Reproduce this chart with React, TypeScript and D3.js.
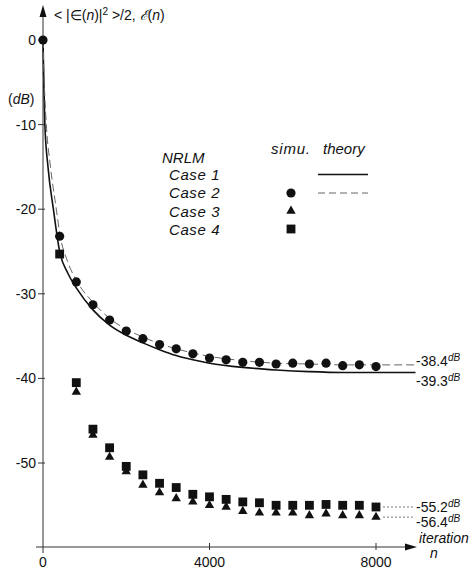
import React from 'react';
import * as d3 from 'd3';

const W = 473;
const H = 571;

// sample positions of the simulated markers
const iters = [0, 400, 800, 1200, 1600, 2000, 2400, 2800, 3200, 3600, 4000, 4400, 4800, 5200, 5600, 6000, 6400, 6800, 7200, 7600, 8000];

// Case 2 (circles)
const case2 = [0, -23.2, -28.6, -31.3, -33.1, -34.4, -35.3, -36.0, -36.5, -37.1, -37.6, -37.8, -38.1, -38.1, -38.3, -38.2, -38.3, -38.2, -38.5, -38.4, -38.6];
// Case 3 (triangles), from n = 800 on
const case3Iters = iters.slice(2);
const case3 = [-41.6, -46.7, -49.3, -51.0, -52.6, -53.5, -54.2, -54.6, -55.0, -55.2, -55.7, -55.9, -55.9, -55.9, -56.2, -56.0, -56.2, -56.2, -56.4];
// Case 4 (squares), from n = 400 on
const case4Iters = iters.slice(1);
const case4 = [-25.3, -40.5, -46.0, -48.2, -50.4, -51.4, -52.4, -52.9, -53.7, -54.0, -54.3, -54.6, -54.7, -55.0, -55.0, -55.0, -54.9, -55.0, -55.0, -55.2];

// theory curves
const theory1N = [0, 20, 45, 120, 250, 400, 600, 800, 1200, 1600, 2000, 2400, 2800, 3200, 3600, 4000, 4800, 5600, 6400, 7200, 8000, 8950];
const theory1 = [0, -5, -10, -15, -20, -25, -27.6, -29.3, -31.9, -33.7, -34.9, -35.8, -36.6, -37.3, -37.8, -38.2, -38.7, -39.0, -39.2, -39.3, -39.3, -39.3];
const theory2N = [0, 30, 80, 180, 320, 400, 600, 800, 1200, 1600, 2000, 2400, 2800, 3200, 3600, 4000, 4800, 5600, 6400, 7200, 8000, 8950];
const theory2 = [0, -5, -10, -15, -20, -22.8, -26.3, -28.4, -31.0, -32.9, -34.2, -35.1, -35.9, -36.5, -37.0, -37.4, -37.9, -38.2, -38.3, -38.4, -38.4, -38.4];

const yTicks = [0, -10, -20, -30, -40, -50];
const xTicks = [0, 4000, 8000];
const legendCases = ['Case 1', 'Case 2', 'Case 3', 'Case 4'];

const font = 'Liberation Sans, Arial, Helvetica, sans-serif';
const ink = '#111';

export default function App() {
  const x = d3.scaleLinear().domain([0, 8000]).range([43, 376]);
  const y = d3.scaleLinear().domain([0, -50]).range([40, 463]);
  const x0 = x(0);
  const yAxisPos = 547;

  const line = d3.line<[number, number]>()
    .x(d => x(d[0]))
    .y(d => y(d[1]))
    .curve(d3.curveMonotoneX);

  const sq = d3.symbol(d3.symbolSquare, 78)();
  const tri = d3.symbol(d3.symbolTriangle, 38)();

  const path1 = line(theory1N.map((n, i) => [n, theory1[i]]));
  const path2 = line(theory2N.map((n, i) => [n, theory2[i]]));

  const endLabel = (val: string, yy: number) => (
    <text x={416} y={yy} fontSize={14} fill={ink}>
      {val}
      <tspan dy={-5} fontSize={10} fontStyle="italic">dB</tspan>
    </text>
  );

  return (
    <svg width={W} height={H} style={{ position: 'absolute', left: 0, top: 0, background: '#fff' }} fontFamily={font}>
      {/* y axis */}
      <line x1={x0} x2={x0} y1={553} y2={14} stroke="#333" strokeWidth={1} />
      <path d={`M${x0},5 L${x0 - 3.5},17 L${x0 + 3.5},17 Z`} fill={ink} />
      {yTicks.map(t => (
        <g key={t}>
          <line x1={x0 - 5} x2={x0 + 2} y1={y(t)} y2={y(t)} stroke="#333" />
          <text x={x0 - 7} y={y(t) + 5} textAnchor="end" fontSize={14} fill={ink}>{t}</text>
        </g>
      ))}
      <text x={8} y={104} fontSize={14} fill={ink}>
        (<tspan fontStyle="italic">dB</tspan>)
      </text>
      <text x={54} y={20} fontSize={14} fill={ink}>
        {'< |∈('}<tspan fontStyle="italic">n</tspan>{')|'}
        <tspan dy={-5} fontSize={10}>2</tspan>
        <tspan dy={5}>{' >/2, '}</tspan>
        <tspan fontStyle="italic">ℰ</tspan>{'('}<tspan fontStyle="italic">n</tspan>{')'}
      </text>

      {/* x axis */}
      <line x1={36} x2={408} y1={yAxisPos} y2={yAxisPos} stroke="#333" />
      <path d={`M417,${yAxisPos} L405,${yAxisPos - 3.5} L405,${yAxisPos + 3.5} Z`} fill={ink} />
      {xTicks.map(t => (
        <g key={t}>
          {t !== 0 && <line x1={x(t)} x2={x(t)} y1={yAxisPos - 4} y2={yAxisPos + 3} stroke="#333" />}
          <text x={x(t)} y={567} textAnchor="middle" fontSize={14} fill={ink}>{t}</text>
        </g>
      ))}
      <text x={419} y={543} fontSize={14} fontStyle="italic" fill={ink}>iteration</text>
      <text x={430} y={558} fontSize={14} fontStyle="italic" fill={ink}>n</text>

      {/* theory */}
      <path d={path1 || ''} fill="none" stroke={ink} strokeWidth={1.6} />
      <path d={path2 || ''} fill="none" stroke="#666" strokeWidth={1} strokeDasharray="8,4" />

      {/* guide lines to end labels */}
      <line x1={x(8000) + 7} x2={413} y1={y(-55.2)} y2={y(-55.2)} stroke="#555" strokeWidth={0.8} strokeDasharray="2,2" />
      <line x1={x(8000) + 7} x2={413} y1={y(-56.4)} y2={y(-56.4)} stroke="#555" strokeWidth={0.8} strokeDasharray="2,2" />

      {/* markers */}
      {case2.map((v, i) => (
        <circle key={'c' + i} cx={x(iters[i])} cy={y(v)} r={4.6} fill={ink} />
      ))}
      {case3.map((v, i) => (
        <path key={'t' + i} d={tri || ''} transform={`translate(${x(case3Iters[i])},${y(v)})`} fill={ink} />
      ))}
      {case4.map((v, i) => (
        <path key={'s' + i} d={sq || ''} transform={`translate(${x(case4Iters[i])},${y(v)})`} fill={ink} />
      ))}

      {/* end labels */}
      {endLabel('-38.4', y(-38.4) + 1)}
      {endLabel('-39.3', y(-39.3) + 14)}
      {endLabel('-55.2', y(-55.2) + 5)}
      {endLabel('-56.4', y(-56.4) + 10)}

      {/* legend */}
      <g fontSize={15} fontStyle="italic" fill={ink}>
        <text x={162} y={163}>NRLM</text>
        <text x={271} y={154} letterSpacing={0.8}>simu.</text>
        <text x={323} y={154}>theory</text>
        {legendCases.map((c, i) => (
          <text key={c} x={169} y={180 + i * 18.3} letterSpacing={0.6}>{c}</text>
        ))}
      </g>
      <line x1={318} x2={368} y1={174.5} y2={174.5} stroke={ink} strokeWidth={1.6} />
      <line x1={318} x2={368} y1={193} y2={193} stroke="#666" strokeWidth={1} strokeDasharray="7,4" />
      <circle cx={291} cy={193} r={4.6} fill={ink} />
      <path d={tri || ''} transform="translate(291,211)" fill={ink} />
      <path d={sq || ''} transform="translate(291,229)" fill={ink} />
    </svg>
  );
}
